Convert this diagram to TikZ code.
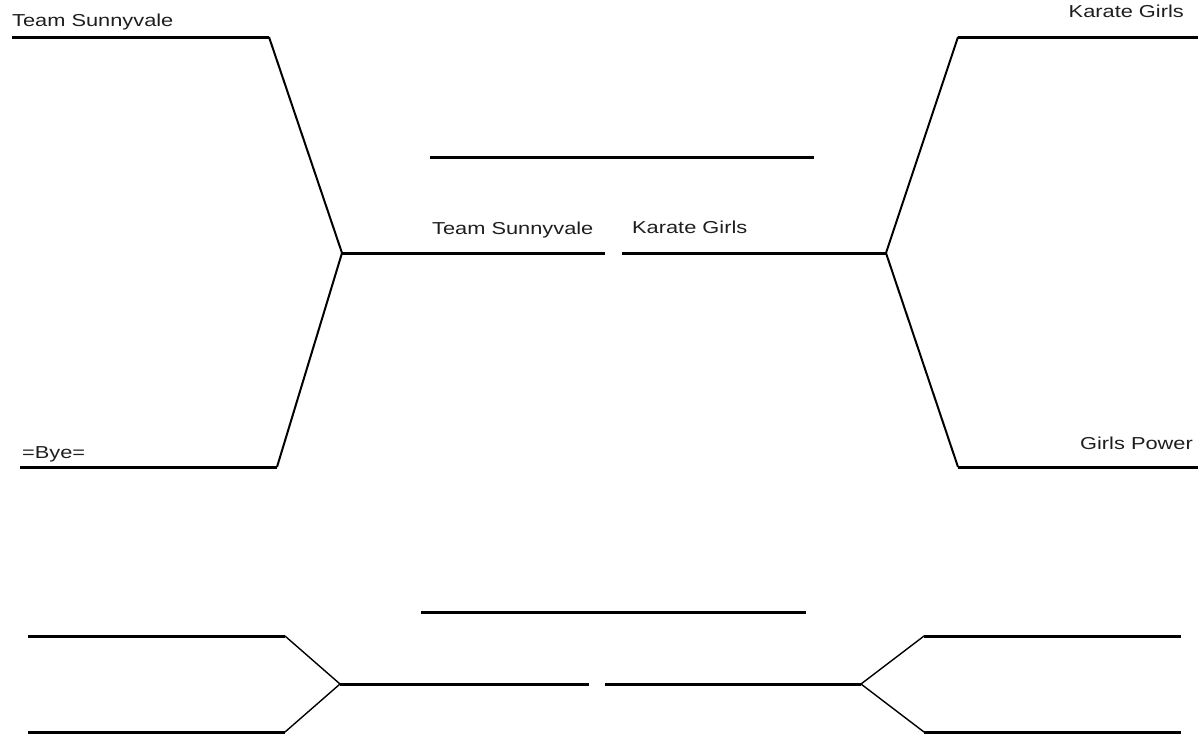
\documentclass[tikz,border=0pt]{standalone}
\usepackage{fontspec}
\newfontfamily\bracketfont[FakeStretch=1.26]{Liberation Sans}
\usetikzlibrary{positioning}
\definecolor{BrkInk}{RGB}{0,0,0}
\definecolor{BrkText}{RGB}{30,30,30}
\tikzset{
  brk/line/.style={draw=BrkInk, line width=3pt},
  brk/diag/.style={draw=BrkInk, line width=2pt},
  brk/thindiag/.style={draw=BrkInk, line width=1.4pt},
  brk/team/.style={
    anchor=base west,
    inner sep=0pt,
    text=BrkText,
    font=\bracketfont\fontsize{17.3}{20}\selectfont
  },
  brk/teamright/.style={brk/team, anchor=base east}
}
\begin{document}
\begin{tikzpicture}[x=1pt,y=-1pt]
  \useasboundingbox (0,0) rectangle (1198,734);
  % upper bracket, left half
  \coordinate (tlA) at (12,37);
  \coordinate (tlB) at (269,37);
  \coordinate (blA) at (20,467);
  \coordinate (blB) at (277,467);
  \coordinate (semiL) at (342,253);
  \coordinate (semiLend) at (605,253);
  % upper bracket, right half
  \coordinate (trA) at (1198,37);
  \coordinate (trB) at (958,37);
  \coordinate (brA) at (1198,467);
  \coordinate (brB) at (958,467);
  \coordinate (semiR) at (886,253);
  \coordinate (semiRend) at (622,253);
  \coordinate (finA) at (430,157);
  \coordinate (finB) at (814,157);
  \draw[brk/line] (tlA) -- (tlB);
  \draw[brk/line] (blA) -- (blB);
  \draw[brk/diag] (tlB) -- (semiL);
  \draw[brk/diag] (blB) -- (semiL);
  \draw[brk/line] (semiL) -- (semiLend);
  \draw[brk/line] (trA) -- (trB);
  \draw[brk/line] (brA) -- (brB);
  \draw[brk/diag] (trB) -- (semiR);
  \draw[brk/diag] (brB) -- (semiR);
  \draw[brk/line] (semiR) -- (semiRend);
  \draw[brk/line] (finA) -- (finB);
  \node[brk/team] (teamA) at (12,26) {Team Sunnyvale};
  \node[brk/team] (bye) at (22,458) {=Bye=};
  \node[brk/teamright] (teamB) at (1184,17) {Karate Girls};
  \node[brk/teamright] (teamC) at (1193,449) {Girls Power};
  \node[brk/team] (semiA) at (432,234) {Team Sunnyvale};
  \node[brk/team] (semiB) at (632,233) {Karate Girls};
  % lower bracket (empty)
  \coordinate (ltA) at (28,636);
  \coordinate (ltB) at (285,636);
  \coordinate (lbA) at (28,732);
  \coordinate (lbB) at (285,732);
  \coordinate (midL) at (340,684);
  \coordinate (midLend) at (589,684);
  \coordinate (rtA) at (1181,636);
  \coordinate (rtB) at (924,636);
  \coordinate (rbA) at (1181,732);
  \coordinate (rbB) at (924,732);
  \coordinate (midR) at (861,684);
  \coordinate (midRend) at (605,684);
  \coordinate (thirdA) at (421,612);
  \coordinate (thirdB) at (806,612);
  \draw[brk/line] (ltA) -- (ltB);
  \draw[brk/line] (lbA) -- (lbB);
  \draw[brk/thindiag] (ltB) -- (midL) -- (lbB);
  \draw[brk/line] (midL) -- (midLend);
  \draw[brk/line] (rtA) -- (rtB);
  \draw[brk/line] (rbA) -- (rbB);
  \draw[brk/thindiag] (rtB) -- (midR) -- (rbB);
  \draw[brk/line] (midR) -- (midRend);
  \draw[brk/line] (thirdA) -- (thirdB);
\end{tikzpicture}
\end{document}
